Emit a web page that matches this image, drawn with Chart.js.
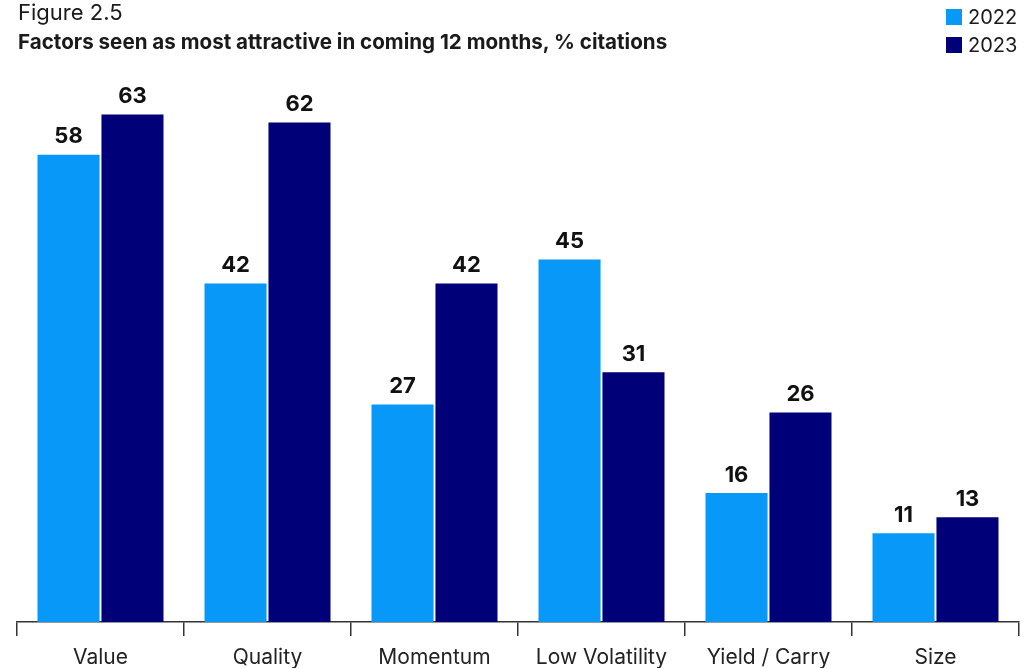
<!DOCTYPE html>
<html>
<head>
<meta charset="utf-8">
<script src="https://cdn.jsdelivr.net/npm/chart.js@4"></script>
<style>
  body { margin: 0; background: #fff; font-family: Inter, "Open Sans", sans-serif; color: #1a1a1a; }
  #wrap { position: relative; width: 1036px; height: 668px; }
  canvas { position: absolute; left: 0; top: 0; }
  .fig { position: absolute; left: 18px; top: -1px; font-size: 22px; }
  .ttl { position: absolute; left: 18px; top: 29px; font-size: 20.6px; font-weight: 700; }
  .legend { position: absolute; left: 946px; top: 3px; font-size: 20px; line-height: 28px; }
  .legend span { display: inline-block; width: 16px; height: 16px; margin-right: 6px; vertical-align: -1px; }
</style>
</head>
<body>
<div id="wrap">
  <canvas id="chart" width="1036" height="668"></canvas>
  <div class="fig">Figure 2.5</div>
  <div class="ttl">Factors seen as most attractive in coming 12 months, % citations</div>
  <div class="legend">
    <div><span style="background:#0898f8"></span>2022</div>
    <div><span style="background:#000078"></span>2023</div>
  </div>
</div>
<script>
const categories = ['Value', 'Quality', 'Momentum', 'Low Volatility', 'Yield / Carry', 'Size'];
const values2022 = [58, 42, 27, 45, 16, 11];
const values2023 = [63, 62, 42, 31, 26, 13];

// draw the numbers above each bar
const valueLabels = {
    id: 'valueLabels',
    afterDatasetsDraw(chart) {
        const ctx = chart.ctx;
        ctx.save();
        ctx.font = 'bold 22px Inter, sans-serif';
        ctx.fillStyle = '#111';
        ctx.textAlign = 'center';
        ctx.textBaseline = 'bottom';
        chart.data.datasets.forEach((ds, i) => {
            chart.getDatasetMeta(i).data.forEach((bar, j) => {
                ctx.fillText(ds.data[j], bar.x, bar.y - 7);
            });
        });
        ctx.restore();
    }
};

new Chart(document.getElementById('chart').getContext('2d'), {
    type: 'bar',
    data: {
        labels: categories,
        datasets: [
            { label: '2022', data: values2022, backgroundColor: '#0898f8' },
            { label: '2023', data: values2023, backgroundColor: '#000078' }
        ]
    },
    options: {
        responsive: false,
        animation: false,
        categoryPercentage: 0.766,
        barPercentage: 0.97,
        layout: { padding: { top: 58, left: 17, right: 17, bottom: 0 } },
        plugins: { legend: { display: false }, tooltip: { enabled: false } },
        scales: {
            y: { display: false, min: 0, max: 70 },
            x: {
                afterFit(scale) { scale.height = 46; },
                border: { display: true, color: '#333', width: 1.5 },
                grid: { drawOnChartArea: false, drawTicks: true, tickLength: 14, color: '#333', lineWidth: 1.5 },
                ticks: { color: '#222', font: { family: 'Inter', size: 21 }, padding: 9, maxRotation: 0 }
            }
        }
    },
    plugins: [valueLabels]
});
</script>
</body>
</html>
